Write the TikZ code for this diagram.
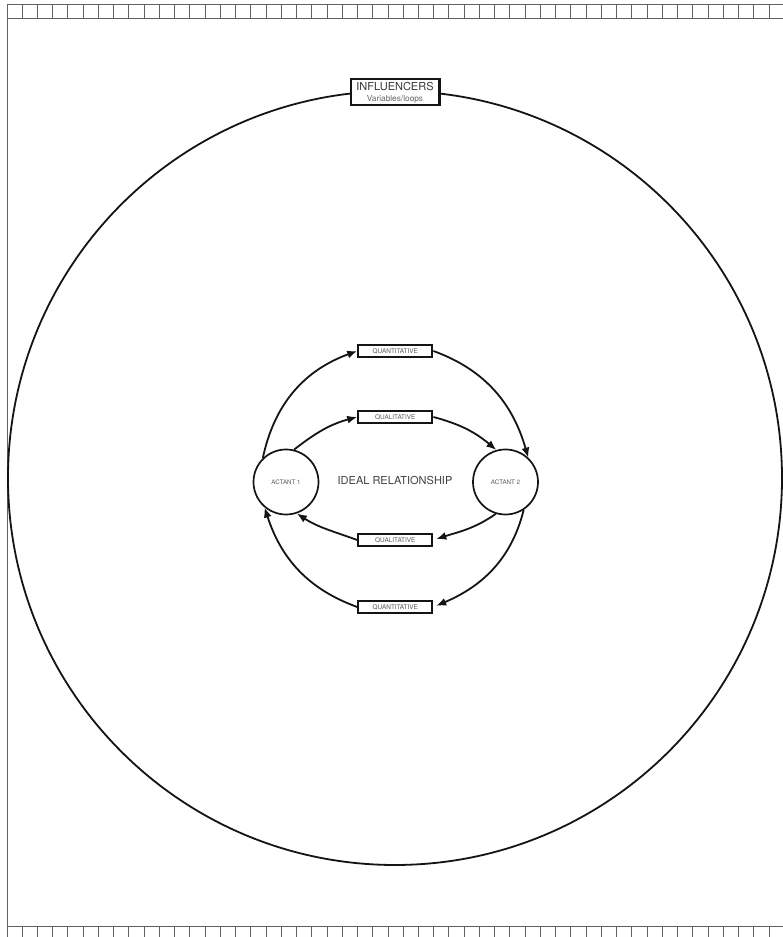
\documentclass[tikz,border=0pt]{standalone}
\usepackage{fontspec}
\setmainfont{TeX Gyre Heros}
\usetikzlibrary{arrows.meta}
\begin{document}
\begin{tikzpicture}[x=1pt,y=1pt,
  frame/.style={draw=black!62, line width=1pt},
  ringstyle/.style={circle, draw=black!92, line width=1.8pt, inner sep=0pt, minimum size=774pt},
  actant/.style={circle, draw=black!92, line width=1.7pt, minimum size=65pt, inner sep=0pt, font=\fontsize{6.2}{7}\selectfont, text=black!65},
  tag/.style={draw=black!92, line width=2.2pt, minimum width=74pt, minimum height=12.5pt, inner sep=0pt, fill=white, font=\fontsize{6.4}{7}\selectfont, text=black!65},
  inflbox/.style={draw=black!92, line width=2.4pt, minimum width=88.6pt, minimum height=26pt, inner sep=0pt, fill=white},
  flow/.style={line width=1.8pt, draw=black!92, -{Latex[length=10pt,width=8pt]}}]
\useasboundingbox (0,0) rectangle (783,937);
\fill[white] (0,0) rectangle (783,937);
% frame
\draw[frame] (7,932.7) -- (784,932.7);
\draw[frame] (7,918.7) -- (784,918.7);
\draw[frame] (7,10.3) -- (784,10.3);
\draw[frame] (7,932.7) -- (7,-1);
\foreach \i in {1,...,50} {
  \draw[frame] ({7+15.24*\i},918.7) -- ({7+15.24*\i},932.7);
  \draw[frame] ({7+15.24*\i},10.3) -- ({7+15.24*\i},-1);
}
% big ring
\node[ringstyle] (ring) at (395,459) {};
\node[inflbox] (inf) at (395,845) {};
\node[font=\fontsize{11}{11}\selectfont, text=black!78, inner sep=0pt] (inft) at (395,850) {INFLUENCERS};
\node[font=\fontsize{8.3}{9}\selectfont, text=black!60, inner sep=0pt] (infs) at (395,838) {Variables/loops};
% center
\node[actant] (a1) at (286,455) {ACTANT 1};
\node[actant] (a2) at (505.5,455) {ACTANT 2};
\node[font=\fontsize{11}{11}\selectfont, text=black!75] (ir) at (395,457) {IDEAL RELATIONSHIP};
\node[tag] (qt) at (395.3,586) {QUANTITATIVE};
\node[tag] (lt) at (395.3,520) {QUALITATIVE};
\node[tag] (lb) at (395.3,397) {QUALITATIVE};
\node[tag] (qb) at (395.3,330) {QUANTITATIVE};
% flows
\draw[flow] (a1.134) to[out=78,in=200] (qt.west);
\draw[flow] (qt.east) to[out=-20,in=106] (a2.47);
\draw[flow] (a1.76) to[out=38,in=195] (lt.west);
\draw[flow] (lt.east) to[out=-15,in=140] (a2.106);
\draw[flow, shorten >=3pt] (a2.253) to[out=215,in=18] (lb.east);
\draw[flow] (lb.west) to[out=160,in=-33] (a1.289);
\draw[flow, shorten >=3pt] (a2.303) to[out=256,in=23] (qb.east);
\draw[flow] (qb.west) to[out=160,in=288] (a1.230);
\end{tikzpicture}
\end{document}
